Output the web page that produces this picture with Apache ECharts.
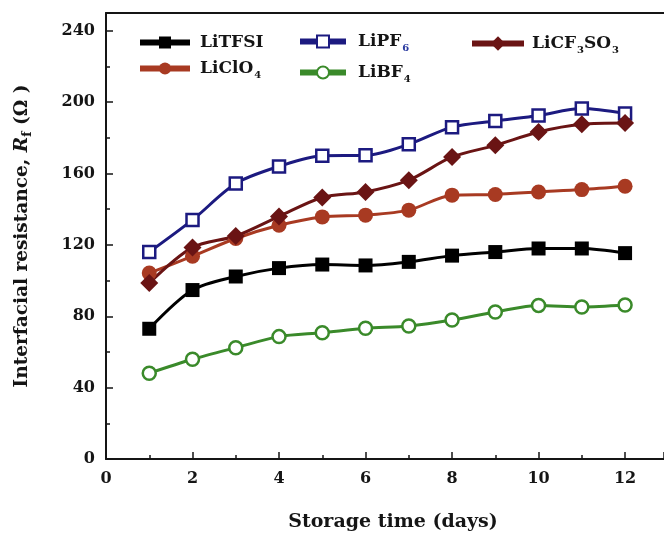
<!DOCTYPE html>
<html>
<head>
<meta charset="utf-8">
<script src="https://cdn.jsdelivr.net/npm/echarts@6/dist/echarts.min.js"></script>
<style>
  html, body { margin: 0; padding: 0; background: #fff; }
  #chart { width: 664px; height: 533px; }
</style>
</head>
<body>
<div id="chart"></div>
<script>
// Storage time in days
const days = [1, 2, 3, 4, 5, 6, 7, 8, 9, 10, 11, 12];

// Interfacial resistance Rf (Ω) for each lithium salt
const liTFSI   = [73, 94.7, 102.3, 107, 109, 108.5, 110.5, 114, 116, 118, 118, 115.4];
const liClO4   = [104.2, 113.7, 123.6, 131, 135.7, 136.7, 139.5, 147.9, 148.3, 149.7, 151, 152.9];
const liPF6    = [116, 134, 154.4, 164, 170, 170.2, 176.4, 186, 189.4, 192.6, 196.4, 193.6];
const liBF4    = [48.1, 55.9, 62.4, 68.6, 70.8, 73.3, 74.6, 77.9, 82.4, 86.1, 85.2, 86.3];
const liCF3SO3 = [98.6, 118.6, 125, 136, 146.6, 149.7, 156.3, 169.3, 175.8, 183.3, 187.6, 188.3];

const serifFont = '"DejaVu Serif", "Liberation Serif", serif';
const ink = '#151515';

function pairs(ys) { return days.map((d, i) => [d, ys[i]]); }

const chart = echarts.init(document.getElementById('chart'), null, { renderer: 'canvas' });

const subRich = {
  b: { fontFamily: serifFont, fontWeight: 'bold', fontSize: 17, color: ink },
  s: { fontFamily: serifFont, fontWeight: 'bold', fontSize: 10, color: ink, padding: [13, 0, 0, 1] },
  s6: { fontFamily: serifFont, fontWeight: 'bold', fontSize: 10, color: '#2a3aa0', padding: [13, 0, 0, 1] }
};

const legendLabels = {
  'LiTFSI': '{b|LiTFSI}',
  'LiClO4': '{b|LiClO}{s|4}',
  'LiPF6': '{b|LiPF}{s6|6}',
  'LiBF4': '{b|LiBF}{s|4}',
  'LiCF3SO3': '{b|LiCF}{s|3}{b|SO}{s|3}'
};

function makeLegend(names, left, top, itemWidth, itemHeight, itemGap, textPad) {
  return {
    data: names,
    orient: 'vertical',
    left: left,
    top: top,
    padding: 0,
    itemWidth: itemWidth,
    itemHeight: itemHeight,
    itemGap: itemGap,
    formatter: n => legendLabels[n],
    textStyle: { rich: subRich, padding: [0, 0, 0, textPad] },
    lineStyle: { width: 6 },
    selectedMode: false
  };
}

function lineSeries(name, data, color, symbol, size, filled) {
  return {
    name: name,
    type: 'line',
    data: pairs(data),
    smooth: 0.3,
    symbol: symbol,
    symbolSize: size,
    lineStyle: { color: color, width: 3 },
    itemStyle: {
      color: filled ? color : '#fff',
      borderColor: color,
      borderWidth: filled ? 0 : 2.5
    },
    z: 3
  };
}

const tickLabel = { fontFamily: serifFont, fontWeight: 'bold', fontSize: 16, color: ink };

chart.setOption({
  animation: false,
  backgroundColor: '#fff',
  grid: { left: 106, top: 13, right: 0, bottom: 74, containLabel: false, outerBoundsMode: 'none' },
  legend: [
    makeLegend(['LiTFSI', 'LiClO4'], 137, 34, 50, 15, 9, 5),
    makeLegend(['LiPF6', 'LiBF4'], 297, 33, 46, 15, 11, 7),
    makeLegend(['LiCF3SO3'], 469, 35, 52, 18, 10, 3)
  ],
  xAxis: [{
    type: 'value',
    min: 0, max: 12.9, interval: 2,
    name: 'Storage time (days)',
    nameLocation: 'middle',
    nameGap: 54,
    nameTextStyle: { fontFamily: serifFont, fontWeight: 'bold', fontSize: 19, color: ink, padding: [0, 0, 0, 16] },
    axisLine: { lineStyle: { color: ink, width: 2 } },
    axisTick: { inside: true, length: 7, lineStyle: { color: ink, width: 1.5 } },
    minorTick: { show: true, splitNumber: 2, length: 4, lineStyle: { color: ink, width: 1.5 } },
    splitLine: { show: false },
    axisLabel: Object.assign({
      margin: 12,
      formatter: v => (v % 2 === 0 && v <= 12 ? String(v) : '')
    }, tickLabel)
  }, {
    // top frame line
    type: 'value',
    position: 'top',
    min: 0, max: 12.9,
    axisLine: { show: true, lineStyle: { color: ink, width: 2 } },
    axisTick: { show: false },
    axisLabel: { show: false },
    splitLine: { show: false }
  }],
  yAxis: {
    type: 'value',
    min: 0, max: 250, interval: 40,
    name: '{t|Interfacial resistance, }{i|R}{f|f}{t| (Ω )}',
    nameLocation: 'middle',
    nameRotate: 90,
    nameGap: 72,
    nameTextStyle: {
      rich: {
        t: { fontFamily: serifFont, fontWeight: 'bold', fontSize: 18.5, color: ink },
        i: { fontFamily: serifFont, fontWeight: 'bold', fontStyle: 'italic', fontSize: 18.5, color: ink },
        f: { fontFamily: serifFont, fontWeight: 'bold', fontSize: 13, color: ink, padding: [10, 0, 0, 0] }
      }
    },
    axisLine: { show: true, lineStyle: { color: ink, width: 2 } },
    axisTick: { inside: true, length: 7, lineStyle: { color: ink, width: 1.5 } },
    minorTick: { show: true, splitNumber: 2, length: 4, lineStyle: { color: ink, width: 1.5 } },
    splitLine: { show: false },
    axisLabel: Object.assign({
      margin: 11,
      formatter: v => (v % 40 === 0 && v <= 240 ? String(v) : '')
    }, tickLabel)
  },
  series: [
    lineSeries('LiTFSI', liTFSI, '#000000', 'rect', 14, true),
    lineSeries('LiClO4', liClO4, '#a83a22', 'circle', 15, true),
    lineSeries('LiPF6', liPF6, '#1c1a80', 'rect', 12, false),
    lineSeries('LiBF4', liBF4, '#3a8a2a', 'circle', 13, false),
    lineSeries('LiCF3SO3', liCF3SO3, '#6a1414', 'diamond', 18, true)
  ]
});
</script>
</body>
</html>
